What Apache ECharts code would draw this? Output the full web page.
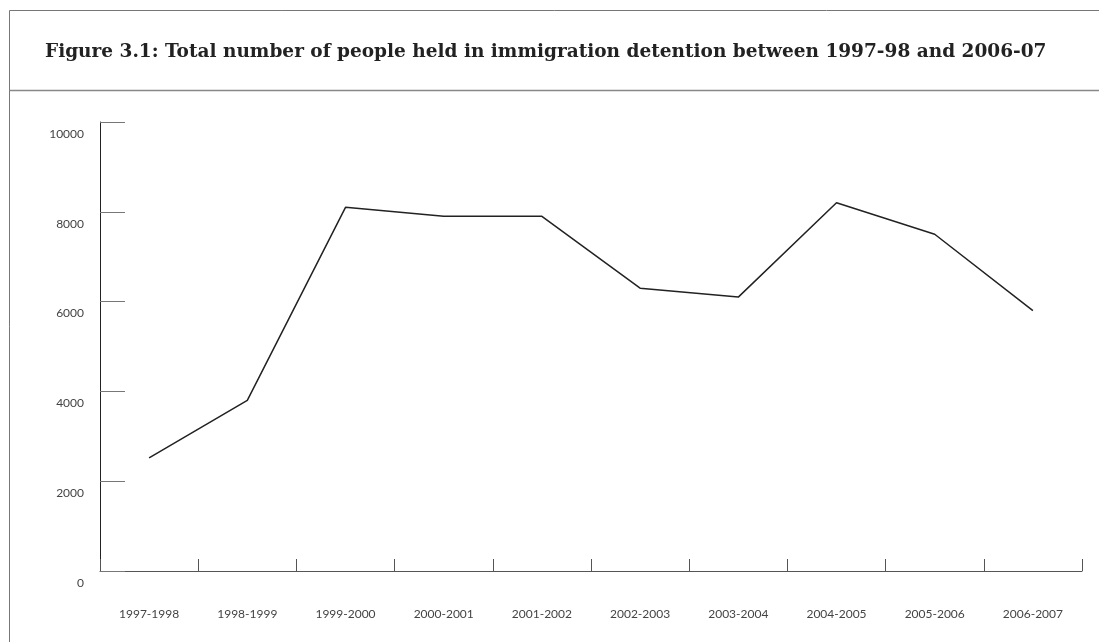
<!DOCTYPE html>
<html>
<head>
<meta charset="utf-8">
<script src="https://cdn.jsdelivr.net/npm/echarts@6/dist/echarts.min.js"></script>
<style>
html,body{margin:0;padding:0;background:#fff;}
#chart{width:1099px;height:642px;}
</style>
</head>
<body>
<div id="chart"></div>
<script>
const titleText = 'Figure 3.1: Total number of people held in immigration detention between 1997-98 and 2006-07';
const categories = ['1997-1998','1998-1999','1999-2000','2000-2001','2001-2002','2002-2003','2003-2004','2004-2005','2005-2006','2006-2007'];
const detained = [2520, 3800, 8100, 7900, 7900, 6300, 6100, 8200, 7500, 5800];
const yMin = 0, yMax = 10000, yStep = 2000;

const chart = echarts.init(document.getElementById('chart'));
chart.setOption({
  animation: false,
  backgroundColor: '#fff',
  title: {
    text: titleText,
    left: 40,
    top: 38,
    textStyle: {fontFamily: 'DejaVu Serif', fontWeight: 'bold', fontSize: 18.5, color: '#222'}
  },
  graphic: [
    {type: 'line', shape: {x1: 9.5, y1: 10.5, x2: 1099, y2: 10.5}, style: {stroke: '#777', lineWidth: 1}},
    {type: 'line', shape: {x1: 9.5, y1: 10.5, x2: 9.5, y2: 642}, style: {stroke: '#777', lineWidth: 1}},
    {type: 'line', shape: {x1: 9.5, y1: 90.5, x2: 1099, y2: 90.5}, style: {stroke: '#888', lineWidth: 1.5}}
  ],
  grid: {left: 100, right: 17, top: 122, bottom: 71, containLabel: false},
  xAxis: {
    type: 'category',
    data: categories,
    boundaryGap: true,
    axisLine: {show: true, lineStyle: {color: '#555', width: 1}},
    axisTick: {show: true, inside: true, length: 12, alignWithLabel: false, interval: 0, lineStyle: {color: '#555'}},
    axisLabel: {margin: 37, interval: 0, fontFamily: 'Lato', fontSize: 12, color: '#444'},
    splitLine: {show: false}
  },
  yAxis: {
    type: 'value',
    min: yMin, max: yMax, interval: yStep,
    axisLine: {show: true, lineStyle: {color: '#222', width: 1}},
    axisTick: {show: true, inside: true, length: 25, lineStyle: {color: '#777'}},
    axisLabel: {
      margin: 16, fontFamily: 'Lato', fontSize: 12, color: '#444',
      verticalAlign: 'top', lineHeight: 24,
      formatter: function (v) { return String(v); }
    },
    splitLine: {show: false}
  },
  series: [{
    type: 'line',
    data: detained,
    showSymbol: false,
    symbol: 'none',
    lineStyle: {color: '#222', width: 1.5}
  }]
});
</script>
</body>
</html>
